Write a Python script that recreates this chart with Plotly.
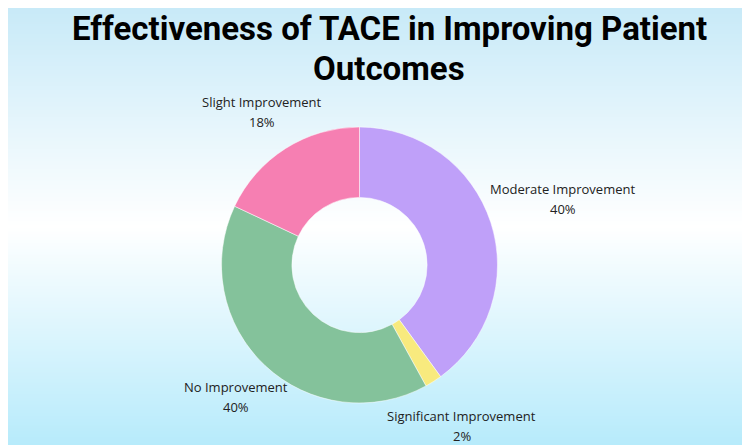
import math
import plotly.graph_objects as go

# dados do grafico
categorias = ['Moderate Improvement', 'Significant Improvement', 'No Improvement', 'Slight Improvement']
valores = [40, 2, 40, 18]
cores = ['#bfa0f9', '#f8ea7e', '#84c29b', '#f67fb2']

titulo_linhas = ['Effectiveness of TACE in Improving Patient', 'Outcomes']

W, H = 750, 445
# centro e raio da rosca, em pixels da figura
cx, cy, raio = 351.5, 257, 138

fig = go.Figure()

# fundo em degrade (azul claro -> branco -> azul claro)
fig.add_trace(go.Heatmap(
    x=[0, 1], y=[0, 0.51, 1], z=[[0, 0], [0.5, 0.5], [1, 1]],
    zsmooth='best', showscale=False, hoverinfo='skip',
    colorscale=[[0, '#b4eafb'], [0.5, '#ffffff'], [1, '#c8eaf8']],
))

fig.add_trace(go.Pie(
    labels=categorias, values=valores, hole=0.49, sort=False, direction='clockwise',
    marker=dict(colors=cores, line=dict(color='rgba(255,255,255,0.5)', width=1)),
    textinfo='none', hoverinfo='label+percent',
    domain=dict(x=[(cx - raio) / W, (cx + raio) / W],
                y=[1 - (cy + raio) / H, 1 - (cy - raio) / H]),
    showlegend=False,
))

# rotulos fora da rosca, no angulo medio de cada fatia
total = sum(valores)
acum = 0
for nome, v in zip(categorias, valores):
    ang = 2 * math.pi * (acum + v / 2) / total
    acum += v
    s, c = math.sin(ang), math.cos(ang)
    larg = 6.9 * len(nome)
    d = raio + 10 + abs(s) * larg / 2
    px_, py_ = cx + d * s, cy - d * c
    pct = f'{round(100 * v / total)}%'
    for txt, dy in [(nome, -10), (pct, 10)]:
        fig.add_annotation(
            x=px_ / W, y=1 - (py_ + dy) / H, xref='paper', yref='paper',
            text=txt, showarrow=False, xanchor='center', yanchor='middle',
            font=dict(family='Open Sans', size=13, color='#222222'),
        )

# titulo em duas linhas
for i, linha in enumerate(titulo_linhas):
    fig.add_annotation(
        x=0.508, y=1 - (20 + 40 * i) / H, xref='paper', yref='paper',
        text=linha, showarrow=False, xanchor='center', yanchor='middle',
        font=dict(family='Roboto', size=33, color='#000000', weight='bold'),
    )

fig.update_layout(
    width=W, height=H,
    margin=dict(l=0, r=0, t=0, b=0),
    xaxis=dict(visible=False, range=[0, 1], fixedrange=True),
    yaxis=dict(visible=False, range=[0, 1], fixedrange=True),
    paper_bgcolor='white', plot_bgcolor='white',
)

fig.write_html("out.html")
